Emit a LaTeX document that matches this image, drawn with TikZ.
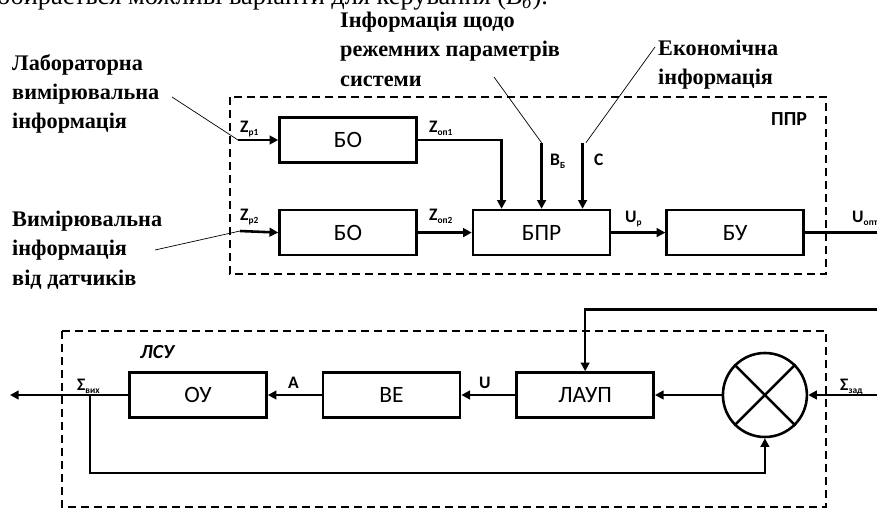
\documentclass[tikz,border=0pt]{standalone}
\usepackage{fontspec}
\setmainfont{Liberation Serif}
\setsansfont{Carlito}
\newfontfamily\vynfont{Liberation Serif}[BoldFont={Liberation Serif Bold}]
\usetikzlibrary{arrows.meta, positioning, calc}
\tikzset{every node/.append style={inner sep=0pt}}

\newcommand{\sgn}[2]{{\bfseries #1\raisebox{-0.4ex}{\fontsize{8}{8}\selectfont #2}}}

\begin{document}
\begin{tikzpicture}[x=0.3mm, y=-0.3mm,
    node distance=13.5mm and 16.2mm,
    blok/.style={rectangle, draw, line width=2.2pt, minimum width=41.1mm,
        minimum height=13.5mm, font=\sffamily\fontsize{20}{22}\selectfont},
    suma/.style={circle, draw, line width=2.2pt, minimum size=25.2mm},
    ramka/.style={line width=1.8pt, dash pattern=on 2.4mm off 1.5mm},
    strl/.style={-{Triangle[length=2.6mm, width=2.6mm]}, line width=2.2pt},
    liniya/.style={line width=2.2pt},
    tonka/.style={line width=0.6pt},
    vynoska/.style={font=\vynfont\bfseries\fontsize{19}{25}\selectfont, align=left,
        anchor=north west},
    sygnal/.style={font=\sffamily\fontsize{15}{15}\selectfont, anchor=base west}
]
\useasboundingbox (0,0) rectangle (877,512);
% rest of the text line above
\node[anchor=base west, font=\fontsize{22.5}{24}\selectfont] (pidpys) at (-3,4)
    {обирається можливі варіанти для керування (\textit{B}\textsubscript{\textit{б}}).};
% ППР (top)
\draw[ramka] (230,97) rectangle (826,274);
\node[blok] (bo1) at (348,140) {БО};
\node[blok, below=of bo1] (bo2) {БО};
\node[blok, right=of bo2] (bpr) {БПР};
\node[blok, right=of bpr] (bu) {БУ};
\coordinate (vb) at ([shift={(0,-66)}]bpr.north);
\coordinate (ec) at ([shift={(41,-66)}]bpr.north);
\draw[strl] (bo1.east) -| ([xshift=-12mm]bpr.north);
\draw[strl] (vb) -- (vb |- bpr.north);
\draw[strl] (ec) -- (ec |- bpr.north);
\draw[strl] (bo2.east) -- (bpr.west);
\draw[strl] (bpr.east) -- (bu.west);
% inputs and their texts
\node[vynoska] (lab) at (12,54) {Лабораторна\\вимірювальна\\інформація};
\node[vynoska] (vym) at (12,211) {Вимірювальна\\інформація\\від датчиків};
\node[vynoska] (rez) at (340,12) {Інформація щодо\\режемних параметрів\\системи};
\node[vynoska] (ekon) at (658,40) {Економічна\\інформація};
\coordinate (lab1) at (172,97);
\coordinate (zp1) at (238,140);
\coordinate (vym1) at (155,250);
\coordinate (zp2) at (240,231);
\coordinate (rez1) at (494,77);
\coordinate (ekon1) at (655,47);
\draw[tonka] (lab1) -- (zp1);
\draw[tonka] (vym1) -- (zp2);
\draw[tonka] (rez1) -- (vb);
\draw[tonka] (ekon1) -- ([xshift=1mm]ec);
\draw[strl] (zp1) -- (bo1.west);
\draw[strl] (zp2) -- (bo2.west);
% signals
\node[sygnal] (zp1l) at (240,132) {\sgn{Z}{р1}};
\node[sygnal] (zon1l) at (429,132) {\sgn{Z}{оп1}};
\node[sygnal] (zp2l) at (240,220) {\sgn{Z}{р2}};
\node[sygnal] (zon2l) at (429,220) {\sgn{Z}{оп2}};
\node[sygnal] (vbl) at (550,165) {\sgn{В}{Б}};
\node[sygnal] (ecl) at (594,165) {\bfseries C};
\node[sygnal] (upl) at (625,222) {\sgn{U}{р}};
\node[sygnal] (uopl) at (852,222) {\sgn{U}{опт}};
\node[sygnal, font=\sffamily\bfseries\fontsize{17}{17}\selectfont] (ppr) at (771,125) {ППР};
% ЛСУ (bottom)
\draw[ramka] (62,331) rectangle (826,507);
\node[sygnal, font=\sffamily\bfseries\itshape\fontsize{17}{17}\selectfont] (lsu) at (140,358) {ЛСУ};
\node[blok] (ou) at (198,395) {ОУ};
\node[blok, right=of ou] (ve) {ВЕ};
\node[blok, right=of ve] (laup) {ЛАУП};
\node[suma, right=20mm of laup] (sum) {};
\draw[liniya] (sum.north west) -- (sum.south east) (sum.north east) -- (sum.south west);
\coordinate (zad) at (885,395);
\coordinate (vyhid) at (10,395);
\coordinate (vz) at (90,395);
\draw[strl] (bu.east) -- ++(85,0) -- ++(0,77) -| (laup.north);
\draw[strl] (zad) -- (sum.east);
\draw[strl] (sum.west) -- (laup.east);
\draw[strl] (laup.west) -- (ve.east);
\draw[strl] (ve.west) -- (ou.east);
\draw[strl] (ou.west) -- (vyhid);
\draw[strl] (vz) -- ++(0,78) -| (sum.south);
\node[sygnal] (sgvl) at (77,390) {\sgn{Σ}{вих}};
\node[sygnal] (al) at (288,388) {\bfseries A};
\node[sygnal] (ul) at (479,388) {\bfseries U};
\node[sygnal] (sgzl) at (840,390) {\sgn{Σ}{зад}};
\end{tikzpicture}
\end{document}
